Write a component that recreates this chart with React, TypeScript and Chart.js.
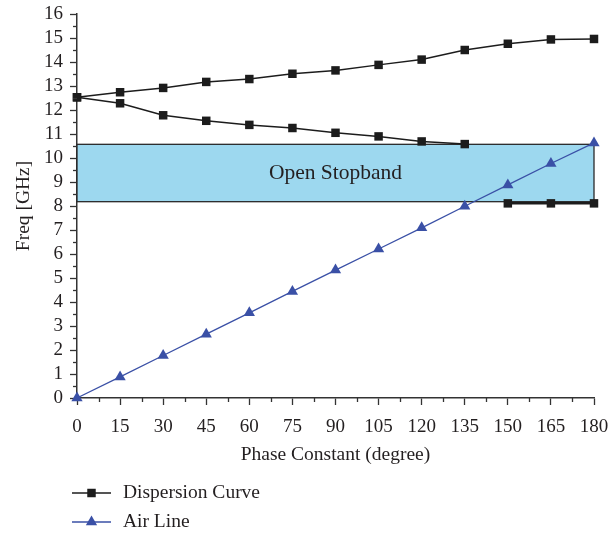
import React, { useEffect, useRef } from 'react';
import { Chart, registerables } from 'chart.js';

Chart.register(...registerables);

// ---- data ----
const phase = [0, 15, 30, 45, 60, 75, 90, 105, 120, 135, 150, 165, 180];
const upperBranch = [12.53, 12.74, 12.92, 13.17, 13.29, 13.51, 13.65, 13.88, 14.1, 14.5, 14.76, 14.94, 14.96];
const lowerPhase = [0, 15, 30, 45, 60, 75, 90, 105, 120, 135];
const lowerBranch = [12.53, 12.28, 11.78, 11.55, 11.38, 11.25, 11.05, 10.9, 10.69, 10.58];
const edgePhase = [150, 165, 180];
const edgeBranch = [8.11, 8.11, 8.11];
const airLine = [0, 0.88, 1.77, 2.66, 3.55, 4.44, 5.33, 6.21, 7.09, 7.99, 8.88, 9.77, 10.63];
const stopbandRange = [8.18, 10.57];
const stopbandLabel = 'Open Stopband';
const seriesLabels = ['Dispersion Curve', 'Air Line'];
const xTitle = 'Phase Constant (degree)';
const yTitle = 'Freq [GHz]';

const FONT = "'Liberation Serif', 'Times New Roman', serif";
const TEXT = '#231f20';
const AXIS = '#333333';
const BLACK = '#1c1c1c';
const BLUE = '#3a50a6';
const BAND = '#9dd8ef';

const toPts = (xs: number[], ys: number[]) => xs.map((x, i) => ({ x, y: ys[i] }));

const stopbandPlugin = {
  id: 'stopband',
  beforeDatasetsDraw(chart: any) {
    const { ctx, scales } = chart;
    const xs = scales.x, ys = scales.y;
    const x0 = xs.getPixelForValue(phase[0]);
    const x1 = xs.getPixelForValue(phase[phase.length - 1]);
    const yTop = ys.getPixelForValue(stopbandRange[1]);
    const yBot = ys.getPixelForValue(stopbandRange[0]);
    ctx.save();
    ctx.fillStyle = BAND;
    ctx.fillRect(x0, yTop, x1 - x0, yBot - yTop);
    ctx.strokeStyle = '#2a2a2a';
    ctx.lineWidth = 1.3;
    ctx.strokeRect(x0, yTop, x1 - x0, yBot - yTop);
    ctx.fillStyle = TEXT;
    ctx.font = `21.5px ${FONT}`;
    ctx.textAlign = 'center';
    ctx.textBaseline = 'middle';
    ctx.fillText(stopbandLabel, (x0 + x1) / 2, (yTop + yBot) / 2);
    ctx.restore();
  },
};

function drawMarker(ctx: CanvasRenderingContext2D, style: string, x: number, y: number, r: number, color: string) {
  ctx.fillStyle = color;
  ctx.beginPath();
  if (style === 'rect') {
    const s = r * Math.SQRT1_2;
    ctx.rect(x - s, y - s, 2 * s, 2 * s);
  } else {
    ctx.moveTo(x, y - r);
    ctx.lineTo(x + r * Math.sin((2 * Math.PI) / 3), y + r / 2);
    ctx.lineTo(x - r * Math.sin((2 * Math.PI) / 3), y + r / 2);
    ctx.closePath();
  }
  ctx.fill();
}

const extrasPlugin = {
  id: 'extras',
  afterDraw(chart: any) {
    const { ctx, scales, chartArea } = chart;
    const xs = scales.x, ys = scales.y;
    ctx.save();
    ctx.strokeStyle = AXIS;
    ctx.lineWidth = 1.3;
    // minor ticks
    for (let v = 0.5; v < 16; v += 1) {
      const py = Math.round(ys.getPixelForValue(v)) + 0.5;
      ctx.beginPath();
      ctx.moveTo(chartArea.left - 4, py);
      ctx.lineTo(chartArea.left, py);
      ctx.stroke();
    }
    for (let v = 7.5; v < 180; v += 15) {
      const px = Math.round(xs.getPixelForValue(v)) + 0.5;
      ctx.beginPath();
      ctx.moveTo(px, chartArea.bottom);
      ctx.lineTo(px, chartArea.bottom + 4);
      ctx.stroke();
    }
    // legend
    const items = [
      { label: seriesLabels[0], color: BLACK, style: 'rect', r: 6 },
      { label: seriesLabels[1], color: BLUE, style: 'triangle', r: 6.5 },
    ];
    const lx0 = chartArea.left - 5;
    const lx1 = lx0 + 39;
    items.forEach((it, i) => {
      const y = chart.height - 42 + i * 29;
      ctx.strokeStyle = it.color;
      ctx.lineWidth = 1.5;
      ctx.beginPath();
      ctx.moveTo(lx0, y);
      ctx.lineTo(lx1, y);
      ctx.stroke();
      drawMarker(ctx, it.style, (lx0 + lx1) / 2, y, it.r, it.color);
      ctx.fillStyle = TEXT;
      ctx.font = `19.5px ${FONT}`;
      ctx.textAlign = 'left';
      ctx.textBaseline = 'middle';
      ctx.fillText(it.label, lx1 + 12, y);
    });
    ctx.restore();
  },
};

export default function App() {
  const ref = useRef<HTMLCanvasElement | null>(null);
  useEffect(() => {
    if (!ref.current) return;
    const lineCommon = {
      borderColor: BLACK,
      backgroundColor: BLACK,
      borderWidth: 1.5,
      pointStyle: 'rect',
      pointRadius: 6,
      pointBorderWidth: 0,
      pointHoverRadius: 6,
      tension: 0,
      fill: false,
      clip: false,
    };
    const chart = new Chart(ref.current, {
      type: 'line',
      data: {
        datasets: [
          { label: seriesLabels[0], data: toPts(phase, upperBranch), ...lineCommon } as any,
          { label: seriesLabels[0] + ' (lower)', data: toPts(lowerPhase, lowerBranch), ...lineCommon } as any,
          { label: seriesLabels[0] + ' (edge)', data: toPts(edgePhase, edgeBranch), ...lineCommon, borderWidth: 2.5 } as any,
          {
            label: seriesLabels[1],
            data: toPts(phase, airLine),
            borderColor: BLUE,
            backgroundColor: BLUE,
            borderWidth: 1.3,
            pointStyle: 'triangle',
            pointRadius: 6.5,
            pointBorderWidth: 0,
            tension: 0,
            fill: false,
            clip: false,
          } as any,
        ],
      },
      options: {
        animation: false,
        responsive: false,
        maintainAspectRatio: false,
        layout: { padding: { top: 14, right: 17, bottom: 68, left: 0 } },
        plugins: {
          legend: { display: false },
          tooltip: { enabled: false },
        },
        scales: {
          x: {
            type: 'linear',
            min: 0,
            max: 180,
            ticks: { stepSize: 15, color: TEXT, font: { family: FONT, size: 19 }, padding: 11, autoSkip: false, maxRotation: 0 },
            grid: { drawOnChartArea: false, drawTicks: true, tickLength: 7, tickColor: AXIS, tickWidth: 1.3 },
            border: { display: true, color: AXIS, width: 1.5 },
            title: { display: true, text: xTitle, color: TEXT, font: { family: FONT, size: 19.5 }, padding: { top: 0, bottom: 0 } },
            afterFit(scale: any) {
              scale.height = 69;
              scale.paddingLeft = 0;
              scale.paddingRight = 0;
            },
          },
          y: {
            type: 'linear',
            min: 0,
            max: 16,
            ticks: { stepSize: 1, color: TEXT, font: { family: FONT, size: 19 }, padding: 7, autoSkip: false },
            grid: { drawOnChartArea: false, drawTicks: true, tickLength: 7, tickColor: AXIS, tickWidth: 1.3 },
            border: { display: true, color: AXIS, width: 1.5 },
            title: { display: true, text: yTitle, color: TEXT, font: { family: FONT, size: 19.5 }, padding: { top: 12, bottom: 0 } },
            afterFit(scale: any) {
              scale.width = 77;
              scale.paddingTop = 0;
              scale.paddingBottom = 0;
            },
          },
        },
      } as any,
      plugins: [stopbandPlugin, extrasPlugin],
    });
    return () => chart.destroy();
  }, []);
  return (
    <div style={{ position: 'fixed', left: 0, top: 0, width: 611, height: 535, background: '#fff' }}>
      <canvas ref={ref} width={611} height={535} style={{ width: 611, height: 535, display: 'block' }} />
    </div>
  );
}
